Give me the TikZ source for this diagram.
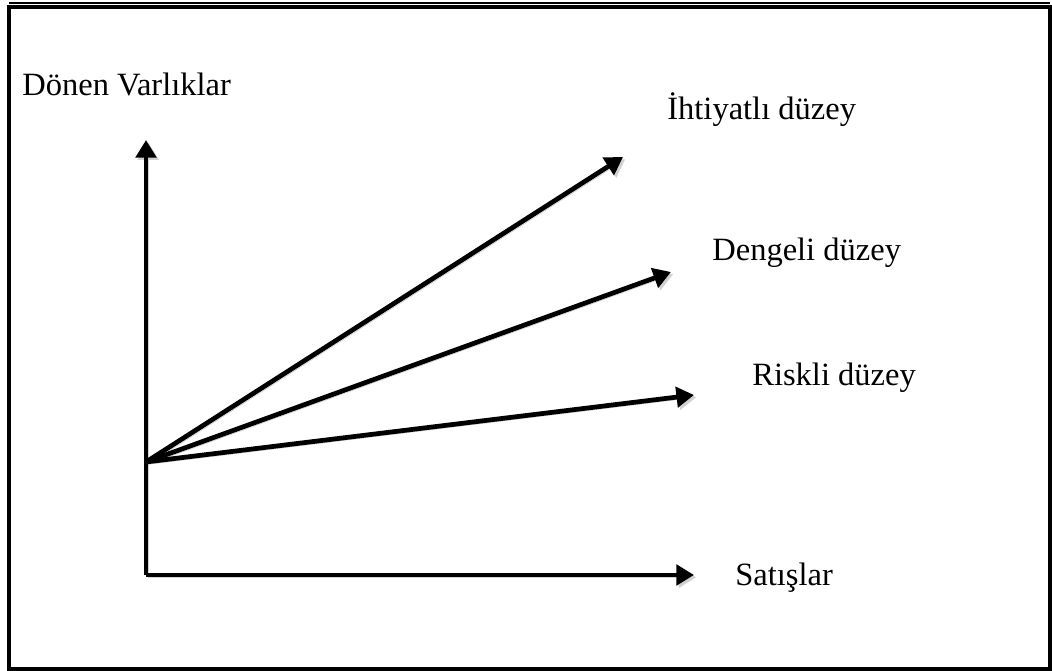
\documentclass[tikz,border=0pt]{standalone}
\usepackage{fontspec}
\setmainfont{Liberation Serif}
\usetikzlibrary{arrows.meta}

\begin{document}
\begin{tikzpicture}[x=0.02cm, y=-0.02cm, font=\fontsize{18.5}{22}\selectfont,
  axis/.style={line width=2.7pt, -{Triangle[length=10pt,width=11.5pt]},
    preaction={draw=black!18, -{Triangle[length=10pt,width=11.5pt]}, transform canvas={shift={(1.3pt,-1.3pt)}}}},
  lbl/.style={anchor=west, inner sep=0pt}]
\useasboundingbox (0,0) rectangle (1052,671);
% frame
\draw[line width=1.9pt] (9,7) rectangle (1050,669);
\draw[line width=0.7pt] (9,3) -- (1050,3);
% points
\coordinate (corner) at (146,575);
\coordinate (orig) at (146,462);
\coordinate (ytip) at (146,140);
\coordinate (xtip) at (694,575);
\coordinate (ihtip) at (623,157);
\coordinate (dtip) at (671,272);
\coordinate (rtip) at (694,395);
% axes
\draw[axis] (corner) -- (ytip);
\draw[axis] (corner) -- (xtip);
% levels
\draw[axis] (orig) -- (ihtip);
\draw[axis] (orig) -- (dtip);
\draw[axis] (orig) -- (rtip);
% labels
\node[lbl] (yl) at (22,84) {Dönen Varlıklar};
\node[lbl] (ih) at (667,110) {İhtiyatlı düzey};
\node[lbl] (de) at (712,253) {Dengeli düzey};
\node[lbl] (ri) at (752,378) {Riskli düzey};
\node[lbl] (xl) at (735,578) {Satışlar};
\end{tikzpicture}
\end{document}
